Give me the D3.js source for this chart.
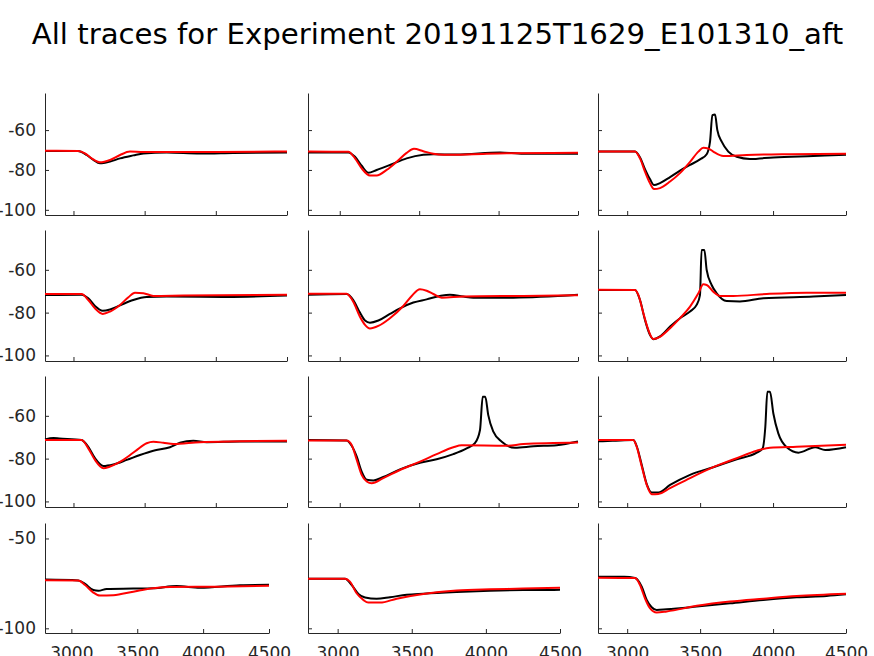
<!DOCTYPE html>
<html><head><meta charset="utf-8">
<script src="https://cdn.jsdelivr.net/npm/d3@7"></script>
<style>body{margin:0;background:#fff}svg{display:block}</style>
</head><body>
<script>
// ---- data (time ms, membrane potential mV) ----
const xTicks = [3000, 3500, 4000, 4500];
const yTicksTall = [-100, -80, -60];
const yTicksShort = [-100, -50];
const xDomain = [2800, 4500];
const yDomain = [-102.6, -41.4];
const title = "All traces for Experiment 20191125T1629_E101310_aft";

const rec11 = [[2800,-70.5],[3030,-70.5],[3093,-72.5],[3140,-75],[3186,-76.7],[3257,-75.8],[3327,-74.2],[3420,-72.7],[3491,-71.7],[3655,-71.3],[3889,-71.8],[4122,-71.5],[4500,-71.2]];
const sim11 = [[2800,-70.35],[3034,-70.5],[3081,-71.7],[3128,-74.2],[3186,-76.2],[3257,-75.0],[3327,-72.5],[3397,-70.8],[3491,-71.0],[4000,-71.0],[4500,-70.7]];
const rec12 = [[2800,-71.2],[3054,-71.2],[3096,-73.4],[3138,-77.9],[3180,-81.4],[3232,-80],[3316,-77.5],[3421,-74.2],[3526,-72.4],[3589,-72.1],[3736,-72.3],[4009,-71.2],[4156,-71.9],[4500,-71.9]];
const sim12 = [[2800,-70.7],[3054,-70.9],[3096,-74.2],[3138,-79.2],[3190,-82.8],[3232,-82.8],[3295,-80],[3358,-75.9],[3421,-71.4],[3467,-69.4],[3526,-70.6],[3589,-71.9],[3652,-72.4],[3841,-72.1],[4051,-71.6],[4500,-71.4]];
const rec13 = [[2800,-70.7],[3054,-70.7],[3088,-73.7],[3122,-79.6],[3156,-84.6],[3184,-87.6],[3225,-86.6],[3294,-83.6],[3362,-80.3],[3431,-77.5],[3499,-74.7],[3545,-72.1],[3568,-65.8],[3584,-52.5],[3602,-52.2],[3618,-60],[3648,-65.8],[3693,-70.8],[3751,-73.4],[3842,-74.5],[4002,-73.7],[4276,-73],[4500,-72.4]];
const sim13 = [[2800,-70.7],[3054,-70.7],[3088,-74.2],[3122,-80.8],[3156,-86.6],[3184,-89.6],[3225,-89.1],[3294,-85.8],[3362,-81.6],[3431,-75.9],[3488,-70.8],[3522,-68.9],[3556,-69.2],[3590,-70.8],[3659,-73.0],[3819,-72.5],[4116,-72.1],[4500,-71.9]];
const rec21 = [[2800,-71.8],[3057,-71.6],[3104,-73.3],[3151,-76.9],[3205,-79.1],[3257,-78.5],[3327,-76.6],[3420,-74.1],[3514,-72.7],[3655,-72.5],[4077,-72.7],[4500,-72.0]];
const sim21 = [[2800,-71.3],[3057,-71.3],[3104,-74.1],[3151,-78.0],[3205,-80.6],[3257,-79.5],[3327,-76.4],[3386,-72.8],[3432,-70.7],[3491,-70.9],[3561,-72.2],[3771,-72.0],[4500,-71.7]];
const rec22 = [[2800,-71.6],[3043,-71.3],[3085,-74.1],[3127,-80],[3159,-83.7],[3190,-84.7],[3243,-83.7],[3316,-80.6],[3379,-78.0],[3463,-75.3],[3547,-73.8],[3631,-72.2],[3694,-71.6],[3778,-72.5],[3841,-73.0],[4093,-73.0],[4500,-71.7]];
const sim22 = [[2800,-71.2],[3043,-71.2],[3085,-74.9],[3127,-81.9],[3159,-85.7],[3190,-87.4],[3243,-86.2],[3316,-82.6],[3400,-76.9],[3453,-72.2],[3505,-69.1],[3547,-69.8],[3589,-71.3],[3642,-73.0],[3778,-72.5],[4156,-72.2],[4500,-71.9]];
const rec23 = [[2800,-69.4],[3054,-69.4],[3088,-74.1],[3122,-83.4],[3156,-90.4],[3179,-92.4],[3225,-91.1],[3294,-86.5],[3362,-82.6],[3431,-79.5],[3476,-76.4],[3499,-71.8],[3510,-50.8],[3529,-50.8],[3545,-60.1],[3579,-67.1],[3614,-71.0],[3682,-74.6],[3773,-74.8],[3933,-73.3],[4276,-72.5],[4500,-71.8]];
const sim23 = [[2800,-69.3],[3054,-69.4],[3077,-71.8],[3111,-80.3],[3145,-88.1],[3179,-92.3],[3225,-91.3],[3294,-87.3],[3362,-82.6],[3431,-77.2],[3488,-71.0],[3522,-66.8],[3545,-67.1],[3590,-70.2],[3636,-72.2],[3727,-72.2],[3956,-71.3],[4231,-70.7],[4500,-70.7]];
const rec31 = [[2800,-71],[2860,-70.4],[2900,-70.6],[3057,-71.3],[3104,-74.5],[3151,-79.8],[3210,-83.4],[3280,-82.7],[3374,-80.6],[3467,-78.3],[3561,-76.3],[3678,-74.7],[3748,-72.6],[3842,-71.6],[3936,-72.3],[4170,-72.0],[4500,-72.0]];
const sim31 = [[2800,-71.3],[3057,-71.3],[3104,-75.2],[3151,-80.6],[3210,-84.5],[3257,-83.7],[3350,-80.6],[3444,-76],[3514,-72.8],[3561,-72.1],[3631,-72.6],[3702,-73.2],[3889,-72.3],[4170,-71.9],[4500,-71.6]];
const rec32 = [[2800,-71.3],[3043,-71.5],[3075,-74.0],[3107,-79.1],[3138,-86.1],[3170,-89.9],[3212,-90.2],[3274,-88.6],[3379,-85.0],[3505,-81.9],[3610,-80.3],[3715,-77.9],[3799,-75.2],[3851,-72.8],[3883,-66.6],[3900,-51.1],[3916,-51.1],[3935,-59.7],[3967,-67.4],[4020,-72.1],[4103,-74.9],[4219,-74.2],[4366,-73.7],[4500,-72.0]];
const sim32 = [[2800,-71.5],[3043,-71.5],[3075,-73.6],[3107,-80.6],[3138,-87.6],[3170,-90.7],[3201,-91.5],[3274,-89.1],[3379,-85.3],[3505,-81.4],[3610,-77.9],[3715,-74.7],[3768,-73.8],[4051,-74.0],[4156,-73.2],[4500,-72.5]];
const rec33 = [[2800,-71.9],[2900,-71.7],[3042,-71.3],[3065,-74.1],[3100,-83.0],[3134,-91.9],[3168,-95.8],[3214,-95.8],[3294,-92.3],[3431,-87.6],[3590,-84],[3751,-80.3],[3888,-77.2],[3929,-75.2],[3947,-65.1],[3961,-48.8],[3979,-48.8],[4002,-58.9],[4036,-68.2],[4094,-74.7],[4174,-77.2],[4288,-74.7],[4357,-76],[4500,-74.7]];
const sim33 = [[2800,-71.3],[3042,-71.3],[3065,-74.4],[3100,-83.7],[3134,-92.3],[3168,-96.6],[3214,-96.5],[3294,-93.8],[3431,-89.1],[3590,-84],[3751,-79.8],[3888,-76.3],[3979,-74.9],[4162,-74.4],[4500,-73.5]];
const rec41 = [[2800,-72.9],[3053,-73.4],[3104,-75.3],[3167,-78.7],[3205,-79.1],[3268,-78.1],[3470,-77.9],[3622,-77.7],[3799,-76.5],[3976,-77.4],[4280,-76],[4500,-75.8]];
const sim41 = [[2800,-73.3],[3053,-73.4],[3104,-75.9],[3167,-80.1],[3217,-81.8],[3319,-81.6],[3470,-79.6],[3622,-77.7],[3749,-77.0],[4103,-76.8],[4500,-76.3]];
const rec42 = [[2800,-72.4],[3050,-72.4],[3095,-75.9],[3140,-80.9],[3185,-82.9],[3263,-83.6],[3353,-82.7],[3466,-81.3],[3578,-80.7],[3803,-79.8],[4028,-79.1],[4252,-78.7],[4500,-78.6]];
const sim42 = [[2800,-72.4],[3050,-72.4],[3083,-74.0],[3128,-80.5],[3173,-84.2],[3207,-85.7],[3286,-85.7],[3398,-83.5],[3578,-80.9],[3803,-79.0],[4028,-78.3],[4252,-77.9],[4500,-77.4]];
const rec43 = [[2800,-71.3],[2980,-71.3],[3054,-72.0],[3100,-76.8],[3134,-84.2],[3168,-88.3],[3202,-89.8],[3271,-89.4],[3477,-87.9],[3705,-86.1],[3933,-84.2],[4162,-82.7],[4367,-82.0],[4500,-81.1]];
const sim43 = [[2800,-71.8],[3054,-72.0],[3088,-75.9],[3122,-83.3],[3156,-88.8],[3202,-91.2],[3271,-90.6],[3477,-87.5],[3705,-85.1],[3933,-83.5],[4162,-82.0],[4500,-80.7]];

const recorded = [[rec11, rec12, rec13],[rec21, rec22, rec23],[rec31, rec32, rec33],[rec41, rec42, rec43]];
const simulated = [[sim11, sim12, sim13],[sim21, sim22, sim23],[sim31, sim32, sim33],[sim41, sim42, sim43]];

// ---- layout ----
const W = 874, H = 656;
const rowBoxes = [[93,215],[230,361],[376,507],[523,633]];
const colBoxesTall = [[45,287],[308,578],[598,846]];
const colBoxesShort = [[45,269],[308,560],[598,846]];
const axisColor = "#262626";
const font = "DejaVu Sans, Liberation Sans, sans-serif";
const plain = d => String(d);

const svg = d3.select("body").append("svg").attr("width", W).attr("height", H);

svg.append("text").attr("x", W/2 + 0.5).attr("y", 44).attr("text-anchor", "middle")
  .attr("font-family", font).attr("font-size", 29.2).attr("fill", "#000").text(title);

rowBoxes.forEach((rb, r) => {
  const cols = r === 3 ? colBoxesShort : colBoxesTall;
  cols.forEach((cb, c) => {
    const x = d3.scaleLinear().domain(xDomain).range(cb);
    const y = d3.scaleLinear().domain(yDomain).range([rb[1], rb[0]]);
    const g = svg.append("g");
    const yAx = d3.axisLeft(y).tickValues(r === 3 ? yTicksShort : yTicksTall)
      .tickSizeInner(-4).tickSizeOuter(0).tickPadding(9)
      .tickFormat(c === 0 ? plain : () => "");
    const xAx = d3.axisBottom(x).tickValues(xTicks)
      .tickSizeInner(-4).tickSizeOuter(0).tickPadding(14)
      .tickFormat(r === 3 ? plain : () => "");
    const ya = g.append("g").attr("transform", `translate(${cb[0]},0)`).call(yAx);
    const xa = g.append("g").attr("transform", `translate(0,${rb[1]})`).call(xAx);
    [ya, xa].forEach(a => {
      a.select(".domain").attr("stroke", axisColor).attr("stroke-width", 1);
      a.selectAll(".tick line").attr("stroke", axisColor);
      a.selectAll("text").attr("fill", axisColor).attr("font-family", font).attr("font-size", 17);
    });
    const line = d3.line().x(d => x(d[0])).y(d => y(d[1])).curve(d3.curveMonotoneX);
    g.append("path").datum(recorded[r][c]).attr("d", line)
      .attr("fill", "none").attr("stroke", "#000").attr("stroke-width", 2).attr("stroke-linejoin", "round");
    g.append("path").datum(simulated[r][c]).attr("d", line)
      .attr("fill", "none").attr("stroke", "#ff0000").attr("stroke-width", 2).attr("stroke-linejoin", "round");
  });
});
</script>
</body></html>
